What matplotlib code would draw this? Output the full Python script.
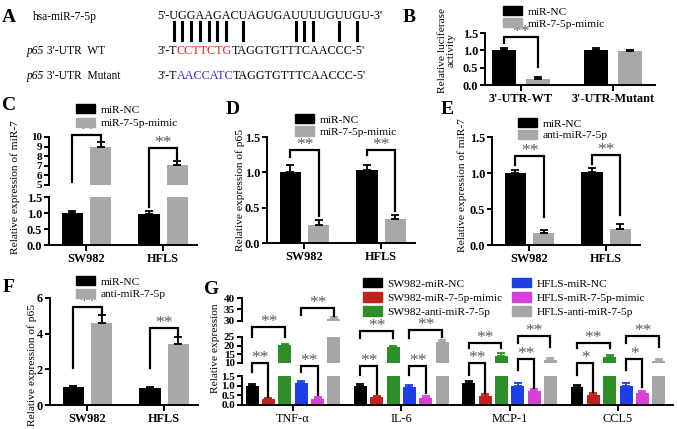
import numpy as np
import matplotlib.pyplot as plt
import matplotlib.transforms as mtransforms
from matplotlib.lines import Line2D
from matplotlib.patches import Patch
from matplotlib.font_manager import FontProperties

W, H = 677, 429
plt.rcParams['font.family'] = ['Liberation Serif', 'DejaVu Serif']
plt.rcParams['axes.linewidth'] = 1.4
plt.rcParams['xtick.major.width'] = 1.4
plt.rcParams['ytick.major.width'] = 1.4
plt.rcParams['xtick.major.size'] = 4
plt.rcParams['ytick.major.size'] = 3.5
plt.rcParams['xtick.major.pad'] = 2
plt.rcParams['ytick.major.pad'] = 1.5

GRAY = '#a8a8a8'
STAR = '#5a5a5a'

###################
# data
###################
# A
mir_name = "hsa-miR-7-5p"
mir_seq = "5'-UGGAAGACUAGUGAUUUUGUUGU-3'"
wt_seq = ["3'-T", "CCTTCTG", "TAGGTGTTTCAACCC-5'"]
mut_seq = ["3'-T", "AACCATC", "TAGGTGTTTCAACCC-5'"]
pair_idx = [3, 4, 5, 6, 7, 8, 9, 11, 17, 18, 19, 22, 24]

# B
b_groups = ["3'-UTR-WT", "3'-UTR-Mutant"]
b_nc = [1.0, 1.01]
b_nc_err = [0.07, 0.07]
b_mimic = [0.16, 0.97]
b_mimic_err = [0.06, 0.04]

cells = ["SW982", "HFLS"]
# C
c_nc = [1.0, 0.98]
c_nc_err = [0.05, 0.09]
c_mimic = [9.0, 7.1]
c_mimic_err = [0.5, 0.35]
# D
d_nc = [1.0, 1.03]
d_nc_err = [0.1, 0.07]
d_mimic = [0.26, 0.34]
d_mimic_err = [0.07, 0.06]
# E
e_nc = [1.0, 1.02]
e_nc_err = [0.04, 0.05]
e_anti = [0.16, 0.22]
e_anti_err = [0.05, 0.07]
# F
f_nc = [1.0, 0.97]
f_nc_err = [0.08, 0.04]
f_anti = [4.6, 3.42]
f_anti_err = [0.42, 0.4]

# G
cytokines = ['TNF-α', 'IL-6', 'MCP-1', 'CCL5']
g_labels = ['SW982-miR-NC', 'SW982-miR-7-5p-mimic', 'SW982-anti-miR-7-5p',
            'HFLS-miR-NC', 'HFLS-miR-7-5p-mimic', 'HFLS-anti-miR-7-5p']
g_colors = ['#000000', '#c0211c', '#2e8f2a', '#1c3fe6', '#d83fd8', '#a6a6a6']
sw_nc = [0.98, 0.98, 1.12, 0.95]
sw_nc_err = [0.12, 0.1, 0.12, 0.08]
sw_mimic = [0.29, 0.40, 0.47, 0.52]
sw_mimic_err = [0.08, 0.07, 0.1, 0.08]
sw_anti = [20.4, 19.2, 14.0, 13.6]
sw_anti_err = [0.8, 0.8, 1.5, 1.0]
hf_nc = [1.12, 0.95, 1.0, 1.0]
hf_nc_err = [0.1, 0.08, 0.12, 0.12]
hf_mimic = [0.30, 0.35, 0.72, 0.60]
hf_mimic_err = [0.1, 0.12, 0.09, 0.14]
hf_anti = [30.9, 22.1, 11.7, 11.3]
hf_anti_err = [0.9, 1.2, 1.0, 1.0]

fig = plt.figure(figsize=(W / 100, H / 100), dpi=100)
renderer = fig.canvas.get_renderer()
ident = mtransforms.IdentityTransform()

TICK_FS = 8.8
CAT_FS = 8.8


def px_axes(x0, y0, x1, y1):
    ax = fig.add_axes([x0 / W, 1 - y1 / H, (x1 - x0) / W, (y1 - y0) / H])
    ax.set_facecolor('none')
    for s in ['top', 'right']:
        ax.spines[s].set_visible(False)
    return ax


def ftext(x, y, s, **kw):
    return fig.text(x / W, 1 - y / H, s, **kw)


def style(ax, xlim, ylim, yticks, ylabels, bottom=True, fs=TICK_FS):
    ax.set_xlim(xlim)
    ax.set_ylim(ylim)
    ax.set_yticks(yticks, ylabels, fontweight='bold', fontsize=fs)
    if not bottom:
        ax.spines['bottom'].set_visible(False)
        ax.set_xticks([])


def bars(axes, x, vals, errs, color, width, ecolor='k'):
    for ax in axes:
        ax.bar(x, vals, width, color=color, edgecolor=color, linewidth=0)
        ax.errorbar(x, vals, yerr=[np.zeros(len(errs)), errs], fmt='none',
                    ecolor=ecolor, elinewidth=1.3, capsize=3, capthick=1.3)


def bracket(ax_x, x1, x2, top, left, right, mark, fs=12.5):
    xl = ax_x.transData.transform((x1, 0))[0]
    xr = ax_x.transData.transform((x2, 0))[0]
    yt = top[0].transData.transform((0, top[1]))[1]
    yl = left[0].transData.transform((0, left[1]))[1]
    yr = right[0].transData.transform((0, right[1]))[1]
    fig.add_artist(Line2D([xl, xl, xr, xr], [yl, yt, yt, yr], transform=ident,
                          color='k', lw=1.6, solid_joinstyle='miter'))
    fig.text((xl + xr) / 2, yt + 1, mark, transform=ident, ha='center',
             va='baseline', fontsize=fs, color=STAR)


def legend(x, y, labels, colors, spacing=0.25):
    handles = [Patch(facecolor=c, edgecolor=c) for c in colors]
    fig.legend(handles, labels, loc='upper left', bbox_to_anchor=(x / W, 1 - y / H),
               frameon=False, fontsize=8.2, handlelength=1.7, handleheight=0.9,
               handletextpad=0.45, labelspacing=spacing, borderpad=0, borderaxespad=0)


def run_text(x, y, pieces, size):
    for s, kw in pieces:
        t = ftext(x, y, s, fontsize=size, va='center', ha='left', **kw)
        x += t.get_window_extent(renderer).width
    return x


# panel letters
for letter, (lx, ly) in zip('ABCDEFG', [(9, 17), (409, 17), (9, 105), (233, 110),
                                        (447, 110), (9, 287), (212, 289)]):
    ftext(lx, ly, letter, fontsize=14, fontweight='bold', ha='center', va='center')

#############
# A
#############
seq_x0, seq_w = 157, 225
fp = FontProperties(family='Liberation Serif', size=9)
w9 = renderer.get_text_width_height_descent(mir_seq, fp, ismath=False)[0]
seq_fs = 9 * seq_w / w9
fp.set_size(seq_fs)
ftext(33, 17, mir_name, fontsize=8.3, va='center')
ftext(seq_x0, 16, mir_seq, fontsize=seq_fs, va='center')
for i in pair_idx:
    a = renderer.get_text_width_height_descent(mir_seq[:i], fp, ismath=False)[0]
    b = renderer.get_text_width_height_descent(mir_seq[:i + 1], fp, ismath=False)[0]
    xc = seq_x0 + (a + b) / 2
    fig.add_artist(Line2D([xc, xc], [H - 22, H - 40], transform=ident, color='k', lw=2.2))
for yrow, lab, seq, col in [(51, "WT", wt_seq, '#e0201b'), (76, "Mutant", mut_seq, '#2a2adc')]:
    run_text(27, yrow, [("p65", {'style': 'italic'}), (" 3'-UTR  " + lab, {})], 8.3)
    run_text(seq_x0, yrow, [(seq[0], {}), (seq[1], {'color': col}), (seq[2], {})], seq_fs)

#############
# B
#############
xb = np.arange(len(b_groups))
axb = px_axes(485, 33, 655, 85)
bars([axb], xb - 0.185, b_nc, b_nc_err, 'k', 0.26)
bars([axb], xb + 0.185, b_mimic, b_mimic_err, GRAY, 0.26)
style(axb, (-0.392, 1.46), (0, 1.5), [0, 0.5, 1, 1.5], ['0.0', '0.5', '1.0', '1.5'])
axb.set_xticks(xb, b_groups, fontweight='bold', fontsize=CAT_FS)
ftext(447, 50, "Relative luciferase\nactivity", rotation=90, fontsize=8.2,
      ha='center', va='center', linespacing=1.0)
legend(503, 6, ['miR-NC', 'miR-7-5p-mimic'], ['k', GRAY], 0.12)
bracket(axb, -0.185, 0.185, (axb, 1.38), (axb, 1.21), (axb, 0.52), '**')

#############
# C - F
#############
xc = np.arange(len(cells))
XL = (-0.49, 1.444)
OFF, BW = 0.183, 0.275

# C (broken axis)
axc_up = px_axes(49, 137, 197, 185)
axc = px_axes(49, 197, 197, 245)
bars([axc_up, axc], xc - OFF, c_nc, c_nc_err, 'k', BW)
bars([axc_up, axc], xc + OFF, c_mimic, c_mimic_err, GRAY, BW)
style(axc_up, XL, (5, 10), [5, 6, 7, 8, 9, 10], ['5', '6', '7', '8', '9', '10'], bottom=False, fs=8)
style(axc, XL, (0, 1.5), [0, 0.5, 1, 1.5], ['0.0', '0.5', '1.0', '1.5'])
axc.set_xticks(xc, cells, fontweight='bold', fontsize=CAT_FS)
ftext(15, 187, "Relative expression of miR-7", rotation=90, fontsize=8.2, ha='center', va='center')
legend(76, 104, ['miR-NC', 'miR-7-5p-mimic'], ['k', GRAY], 0.28)
bracket(axc, -OFF, OFF, (axc_up, 10.2), (axc_up, 5.3), (axc_up, 9.55), '**')
bracket(axc, 1 - OFF, 1 + OFF, (axc_up, 8.85), (axc, 1.2), (axc_up, 7.5), '**')

# D
axd = px_axes(267, 137, 415, 243)
bars([axd], xc - OFF, d_nc, d_nc_err, 'k', BW)
bars([axd], xc + OFF, d_mimic, d_mimic_err, GRAY, BW)
style(axd, XL, (0, 1.5), [0, 0.5, 1, 1.5], ['0.0', '0.5', '1.0', '1.5'])
axd.set_xticks(xc, cells, fontweight='bold', fontsize=CAT_FS)
ftext(240, 190, "Relative expression of p65", rotation=90, fontsize=8.2, ha='center', va='center')
legend(295, 114, ['miR-NC', 'miR-7-5p-mimic'], ['k', GRAY], 0.14)
bracket(axd, -OFF, OFF, (axd, 1.31), (axd, 1.22), (axd, 0.38), '**')
bracket(axd, 1 - OFF, 1 + OFF, (axd, 1.31), (axd, 1.24), (axd, 0.45), '**')

# E
axe = px_axes(492, 137, 640, 245)
bars([axe], xc - OFF, e_nc, e_nc_err, 'k', BW)
bars([axe], xc + OFF, e_anti, e_anti_err, GRAY, BW)
style(axe, XL, (0, 1.5), [0, 0.5, 1, 1.5], ['0.0', '0.5', '1.0', '1.5'])
axe.set_xticks(xc, cells, fontweight='bold', fontsize=CAT_FS)
ftext(462, 185, "Relative expression of miR-7", rotation=90, fontsize=8.2, ha='center', va='center')
legend(518, 118, ['miR-NC', 'anti-miR-7-5p'], ['k', GRAY], 0.1)
bracket(axe, -OFF, OFF, (axe, 1.23), (axe, 1.11), (axe, 0.39), '**')
bracket(axe, 1 - OFF, 1 + OFF, (axe, 1.25), (axe, 1.13), (axe, 0.42), '**')

# F
axf = px_axes(50, 298, 198, 405)
bars([axf], xc - OFF, f_nc, f_nc_err, 'k', BW)
bars([axf], xc + OFF, f_anti, f_anti_err, GRAY, BW)
style(axf, XL, (0, 6), [0, 2, 4, 6], ['0', '2', '4', '6'])
axf.set_xticks(xc, cells, fontweight='bold', fontsize=CAT_FS)
ftext(32, 365, "Relative expression of p65", rotation=90, fontsize=8.2, ha='center', va='center')
legend(76, 276, ['miR-NC', 'anti-miR-7-5p'], ['k', GRAY], 0.18)
bracket(axf, -OFF, OFF, (axf, 5.51), (axf, 2.06), (axf, 5.08), '**')
bracket(axf, 1 - OFF, 1 + OFF, (axf, 4.3), (axf, 2.06), (axf, 3.86), '**')

#############
# G (three-segment axis)
#############
xg = np.arange(len(cytokines))
XLG = (-0.471, 3.509)
GO, GW = 0.151, 0.12
axg_top = px_axes(242, 298, 673, 321)
axg_mid = px_axes(242, 337, 673, 363)
axg = px_axes(242, 376, 673, 405)
g_vals = [sw_nc, sw_mimic, sw_anti, hf_nc, hf_mimic, hf_anti]
g_errs = [sw_nc_err, sw_mimic_err, sw_anti_err, hf_nc_err, hf_mimic_err, hf_anti_err]
for i, (v, e, c) in enumerate(zip(g_vals, g_errs, g_colors)):
    bars([axg_top, axg_mid, axg], xg + (i - 2.5) * GO, v, e, c, GW, ecolor=c)
style(axg_top, XLG, (30, 40), [30, 35, 40], ['30', '35', '40'], bottom=False, fs=8)
style(axg_mid, XLG, (10, 25), [10, 15, 20, 25], ['10', '15', '20', '25'], bottom=False, fs=8)
style(axg, XLG, (0, 1.5), [0, 0.5, 1, 1.5], ['0.0', '0.5', '1.0', '1.5'], fs=8)
axg.set_xticks(xg, cytokines, fontsize=8.8)
ftext(216, 348, "Relative expression", rotation=90, fontsize=8.2, ha='center', va='center')
legend(363, 278, g_labels[:3], g_colors[:3], 0.3)
legend(512, 278, g_labels[3:], g_colors[3:], 0.3)

p = [(i - 2.5) * GO for i in range(6)]
# (group, left bar, right bar, top, left leg, right leg, mark)
g_brackets = [
    (0, 0, 1, (axg, 2.19), (axg, 1.71), (axg, 0.41), '**'),
    (0, 0, 2, (axg_mid, 30.8), (axg_mid, 25), (axg_mid, 25), '**'),
    (0, 3, 4, (axg, 2.02), (axg, 1.71), (axg, 0.5), '**'),
    (0, 3, 5, (axg_top, 35.6), (axg_top, 32.6), (axg_top, 32.0), '**'),
    (1, 0, 1, (axg, 2.02), (axg, 1.55), (axg, 0.57), '**'),
    (1, 0, 2, (axg_mid, 28.5), (axg_mid, 24.4), (axg_mid, 24.4), '**'),
    (1, 3, 4, (axg, 2.02), (axg, 1.55), (axg, 0.62), '**'),
    (1, 3, 5, (axg_mid, 29.0), (axg_mid, 24.4), (axg_mid, 25), '**'),
    (2, 0, 1, (axg, 2.17), (axg, 1.55), (axg, 0.62), '**'),
    (2, 0, 2, (axg_mid, 21.5), (axg_mid, 18.7), (axg_mid, 18.7), '**'),
    (2, 3, 4, (axg, 2.38), (axg, 1.81), (axg, 0.88), '**'),
    (2, 3, 5, (axg_mid, 25.6), (axg_mid, 21.5), (axg_mid, 19.2), '**'),
    (3, 0, 1, (axg, 2.17), (axg, 1.55), (axg, 0.67), '*'),
    (3, 0, 2, (axg_mid, 21.5), (axg_mid, 18.7), (axg_mid, 18.7), '**'),
    (3, 3, 4, (axg, 2.38), (axg, 1.81), (axg, 0.93), '*'),
    (3, 3, 5, (axg_mid, 25.6), (axg_mid, 21.5), (axg_mid, 19.2), '**'),
]
for g, i, j, top, left, right, mark in g_brackets:
    bracket(axg, g + p[i], g + p[j], top, left, right, mark)

fig.savefig('out.png', dpi=100)
